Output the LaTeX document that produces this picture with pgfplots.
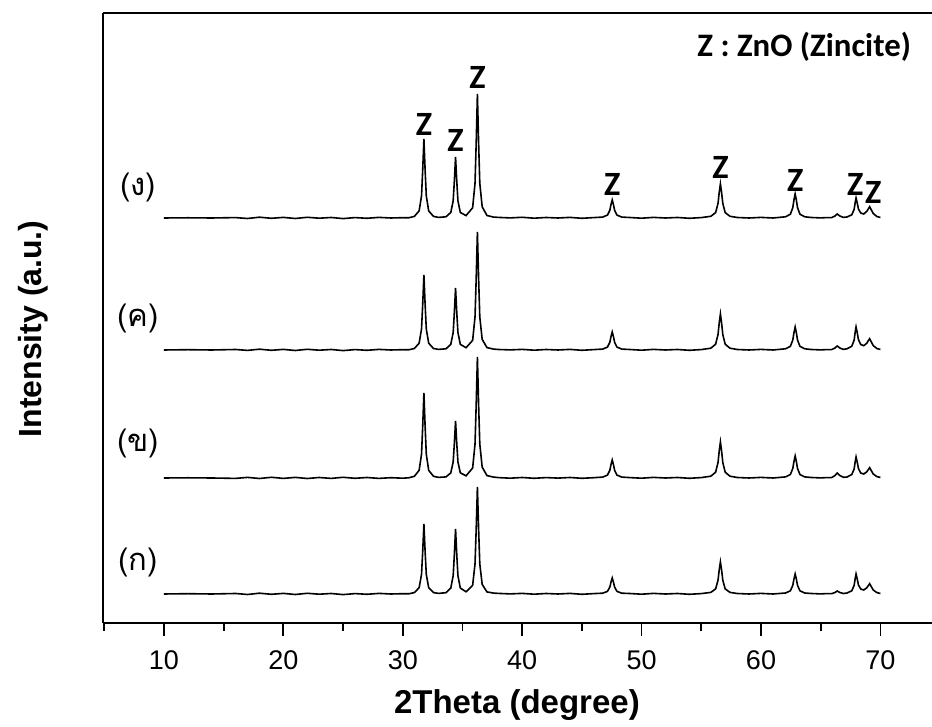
\documentclass[border=0pt]{standalone}
\usepackage{pgfplots}
\pgfplotsset{compat=1.18}
\usepackage{pgfplotstable}
\usepackage{fontspec}
\setmainfont{Liberation Sans}
\newfontfamily\thaifont[Script=Thai]{Loma}
\newfontfamily\calibri{Carlito}

% XRD patterns, stacked; y in the picture's own units (baseline of each trace kept in the values)
\pgfplotstableread{
x ko kha kho ngo
10.0 29 145 273 405
12.0 29.3 145.2 273.3 405.2
14.0 29 145 273 405
16.0 29.5 144.6 273.5 405.4
17.0 28.5 145.6 272.6 404.5
18.0 29.8 144.5 273.8 405.8
19.0 28.7 145.7 272.7 404.7
20.0 29.6 144.6 273.6 405.6
21.0 28.5 145.6 272.5 404.5
22.0 29.7 144.5 273.7 405.7
23.0 28.8 145.5 272.8 404.8
24.0 29.5 144.6 273.5 405.5
25.0 28.4 145.7 272.4 404.4
26.0 29.4 144.7 273.4 405.4
27.0 28.7 145.5 272.7 404.7
28.0 29.6 144.6 273.6 405.6
29.0 29.0 145.3 273.0 405.0
30.0 29.3 144.8 273.3 405.3
30.5 29.2 145.2 273.2 405.2
30.97 30.4 146.7 274.5 406.6
31.37 35.3 152.7 279.8 412.1
31.57 48.6 168.8 294.0 427.1
31.67 71.7 196.9 318.8 453.2
31.77 99.0 230.0 348.0 484.0
31.87 71.7 196.9 318.8 453.2
31.97 48.6 168.8 294.0 427.1
32.17 35.3 152.7 279.8 412.1
32.57 30.4 146.7 274.5 406.6
33.00 29.6 145.6 273.6 405.6
33.62 30.3 146.1 274.2 406.2
34.02 34.9 150.1 278.6 410.5
34.22 47.2 161.0 290.4 422.1
34.32 68.7 179.8 310.8 442.2
34.42 94.0 202.0 335.0 466.0
34.52 68.7 179.8 310.8 442.2
34.62 47.2 161.0 290.4 422.1
34.82 34.9 150.1 278.6 410.5
35.30 31.2 147.2 275.3 407.4
35.85 37.6 154.9 282.6 415.2
36.05 59.0 178.9 306.0 439.7
36.15 94.3 218.8 345.0 480.6
36.25 136.0 266.0 391.0 529.0
36.35 94.3 218.8 345.0 480.6
36.45 59.0 178.9 306.0 439.7
36.65 38.6 155.9 283.6 416.2
37.05 31.1 147.4 275.4 407.5
37.60 29.9 145.9 273.9 405.9
38.0 29.6 145.4 273.5 405.6
39.0 29.1 144.8 273.1 405.1
40.0 29.6 145.5 273.6 405.7
41.0 28.8 144.7 272.8 404.8
42.0 29.5 145.4 273.5 405.5
43.0 29.0 144.9 273.0 405.0
44.0 29.6 145.5 273.6 405.6
45.0 28.7 144.7 272.7 404.7
46.0 29.4 145.3 273.4 405.4
46.74 29.8 145.9 273.9 405.9
47.14 31.6 147.9 275.9 407.9
47.34 35.9 152.7 280.7 412.7
47.44 41.0 158.5 286.5 418.5
47.54 45.0 163.0 291.0 423.0
47.64 41.0 158.5 286.5 418.5
47.74 35.9 152.7 280.7 412.7
47.94 31.6 147.9 275.9 407.9
48.34 29.8 145.9 273.9 405.9
49.0 29.5 145.4 273.5 405.5
50.0 28.8 144.8 272.8 404.8
51.0 29.6 145.6 273.6 405.6
52.0 29.0 145.0 273.0 405.0
53.0 29.5 145.5 273.5 405.5
54.0 28.7 144.7 272.7 404.7
55.0 29.4 145.4 273.4 405.4
55.8 30.6 146.8 274.8 406.7
56.2 34.1 150.8 278.8 410.4
56.4 42.8 160.5 288.5 419.6
56.5 53.0 172.0 300.0 430.5
56.6 61.0 181.0 309.0 439.0
56.7 53.0 172.0 300.0 430.5
56.8 42.8 160.5 288.5 419.6
57.0 34.1 150.8 278.8 410.4
57.4 30.6 146.8 274.8 406.7
58.0 29.5 145.5 273.5 405.5
59.0 29.0 145.0 273.0 405.0
60.0 29.6 145.6 273.6 405.6
61.0 29.0 145.0 273.0 405.0
62.06 30.0 146.1 274.2 406.2
62.46 32.2 148.5 276.7 408.8
62.66 37.6 154.5 282.9 415.3
62.76 44.0 161.5 290.3 423.0
62.86 49.0 167.0 296.0 429.0
62.96 44.0 161.5 290.3 423.0
63.06 37.6 154.5 282.9 415.3
63.26 32.2 148.5 276.7 408.8
63.66 30.0 146.1 274.2 406.2
64.2 29.5 145.5 273.5 405.5
65.0 29.1 145.1 273.1 405.1
65.5 29.4 145.4 273.4 405.4
65.9 29.3 145.3 273.3 405.3
66.2 30.5 147.5 275.0 407.0
66.38 32.0 150.0 277.0 409.0
66.6 30.5 147.5 275.0 407.0
66.9 29.5 145.7 273.6 405.6
67.2 30.0 146.0 274.2 406.0
67.6 32.2 148.4 276.7 408.2
67.8 37.6 154.0 282.9 413.6
67.88 44.0 160.8 290.3 420.0
67.96 49.0 166.0 296.0 425.0
68.06 44.0 160.8 290.3 420.0
68.16 38.0 154.5 283.4 414.0
68.35 34.0 150.0 278.5 410.0
68.6 33.0 149.0 277.3 409.0
68.85 35.0 151.0 279.6 411.5
68.98 37.3 153.3 282.2 414.0
69.1 39.3 155.3 284.3 416.3
69.22 36.6 152.7 281.4 413.5
69.4 33.0 149.0 277.4 409.5
69.7 30.4 146.4 274.5 406.5
70.0 29.5 145.5 273.5 405.5
}\xrd

\begin{document}
\begin{tikzpicture}
\useasboundingbox (-51.35pt,-52pt) rectangle (414.65pt,311.5pt);
\begin{axis}[
    at={(0pt,0pt)}, anchor=south west,
    scale only axis,
    width=414.65pt, height=305pt,
    xmin=4.87, xmax=74.32,
    ymin=0, ymax=610,
    axis x line*=box, axis y line*=left,
    axis line style={black, line width=1pt},
    ytick=\empty,
    xtick={10,20,...,70},
    minor xtick={5,15,...,75},
    xtick pos=lower,
    tick align=outside,
    major tick length=6.5pt, minor tick length=4pt,
    tick style={black, line width=0.9pt},
    xticklabel style={font=\fontsize{13.5}{16}\selectfont, yshift=-4pt},
    /pgf/number format/assume math mode=true,
    clip=false,
]
\addplot[black, line width=0.8pt] table[x=x, y=ko] {\xrd};
\addplot[black, line width=0.8pt] table[x=x, y=kha] {\xrd};
\addplot[black, line width=0.8pt] table[x=x, y=kho] {\xrd};
\addplot[black, line width=0.8pt] table[x=x, y=ngo] {\xrd};

% sample names
\begin{scope}[every node/.style={font=\thaifont\fontsize{15.5}{18}\selectfont}]
\node at (axis cs:7.82,436) {(ง)};
\node at (axis cs:7.82,305) {(ค)};
\node at (axis cs:7.82,180) {(ข)};
\node at (axis cs:7.82,61) {(ก)};
\end{scope}

% peak marks
\begin{scope}[every node/.style={font=\calibri\bfseries\fontsize{17}{20}\selectfont}]
\node at (axis cs:31.77,499) {Z};
\node at (axis cs:34.42,483) {Z};
\node at (axis cs:36.25,546) {Z};
\node at (axis cs:47.54,439) {Z};
\node at (axis cs:56.60,456) {Z};
\node at (axis cs:62.86,443) {Z};
\node at (axis cs:67.90,439) {Z};
\node at (axis cs:69.40,431) {Z};
\end{scope}
\node[anchor=east, font=\calibri\bfseries\fontsize{16.4}{19}\selectfont] at (axis cs:73.15,576) {Z : ZnO (Zincite)};

% axis titles
\node[font=\bfseries\fontsize{16.5}{19}\selectfont] at (axis cs:39.56,-82) {2Theta (degree)};
\node[rotate=90, font=\bfseries\fontsize{16}{19}\selectfont] at (axis cs:-0.97,294) {Intensity (a.u.)};
\end{axis}
\end{tikzpicture}
\end{document}
